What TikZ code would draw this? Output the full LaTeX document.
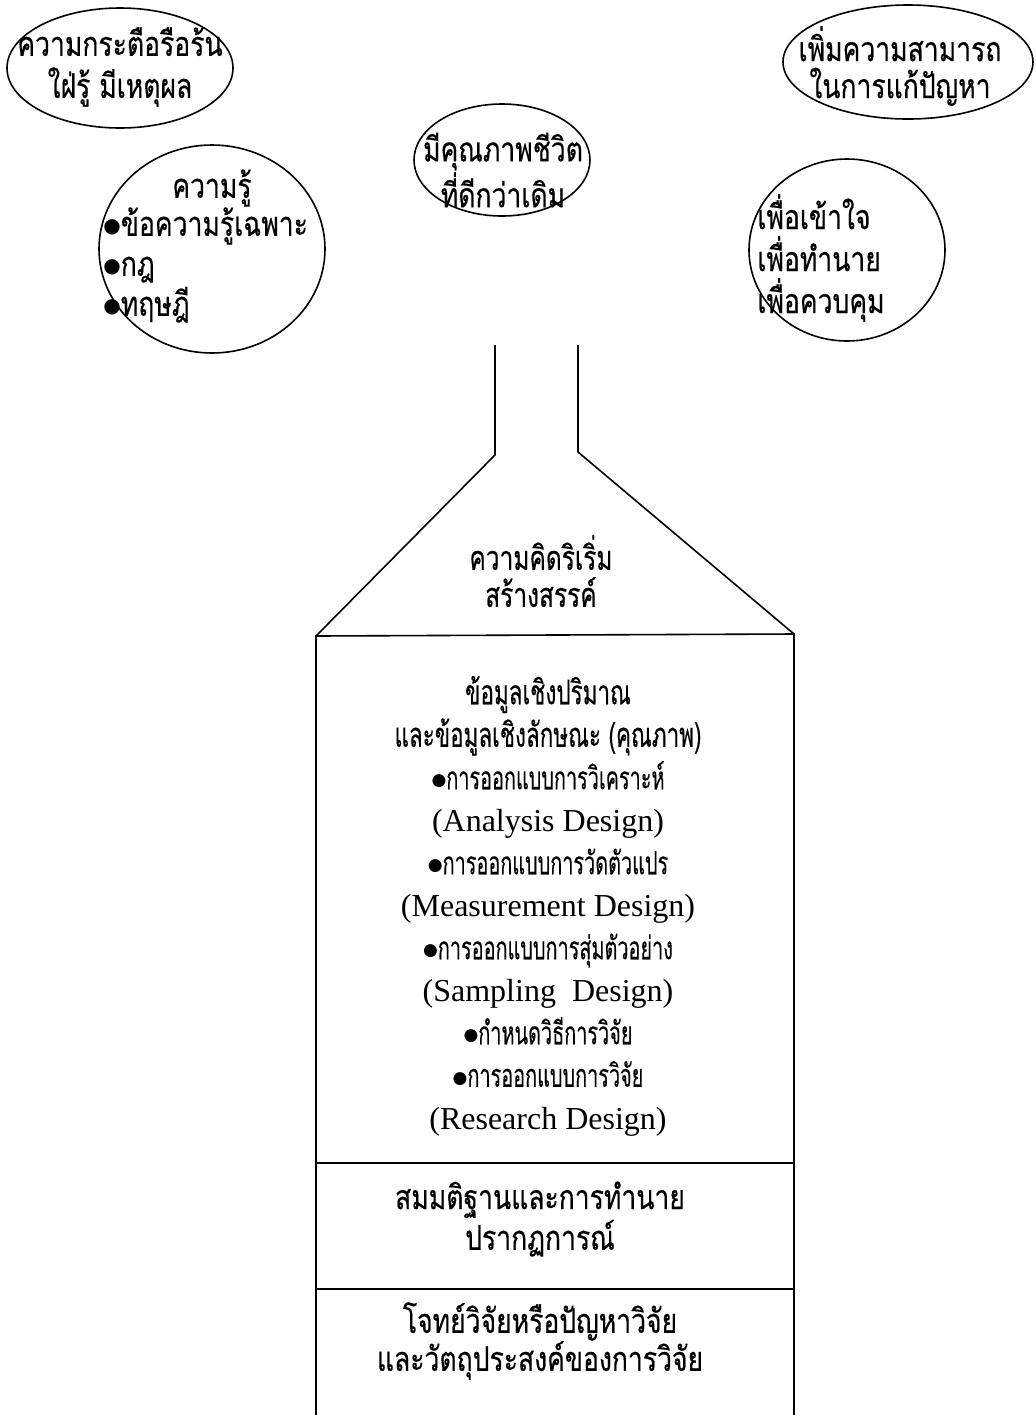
\documentclass[tikz,border=0pt]{standalone}
\usepackage{fontspec}
\usetikzlibrary{shapes.geometric}
\newfontfamily\thaifont[Script=Thai,FakeStretch=0.78,FakeBold=0.4]{Loma}
\newfontfamily\thaicond[Script=Thai,FakeStretch=0.66,FakeBold=0.3]{Loma}
\newfontfamily\thailight[Script=Thai,FakeStretch=0.62,FakeBold=0.15]{Loma}
\newfontfamily\engfont{Liberation Serif}
\newfontfamily\symfont{DejaVu Sans}
\newcommand\tbul{\raisebox{1.8pt}{\symfont\fontsize{8.5}{8}\selectfont ●}}
\newcommand\tbulbig{\raisebox{1.8pt}{\symfont\fontsize{10}{8}\selectfont ●}}
\newcommand\engl[1]{{\engfont\fontsize{16}{16}\selectfont #1}}
\newcommand\blt[1]{{\thailight\fontsize{16}{21.25}\selectfont\tbul #1}}
\begin{document}
\begin{tikzpicture}[x=0.5pt,y=-0.5pt,
  oval/.style={draw, ellipse, line width=0.8pt, inner sep=0pt},
  txt/.style={font=\thaifont\fontsize{17}{21}\selectfont, align=center, inner sep=0pt},
  ln/.style={line width=0.8pt}]
\useasboundingbox (0,0) rectangle (1035,1415);
\fill[white] (0,0) rectangle (1035,1415);

% ellipses
\node[oval, minimum width=113pt, minimum height=60pt] (eA) at (120,68) {};
\node[txt, font=\thaifont\fontsize{17}{21}\selectfont] (tA) at (120,67) {ความกระตือรือร้น\\ใฝ่รู้ มีเหตุผล};

\node[oval, minimum width=113pt, minimum height=104pt] (eB) at (212,249) {};
\node[txt] (tB) at (212,188) {ความรู้};
\node[txt, align=left, anchor=west, font=\thaifont\fontsize{17}{20}\selectfont] (tBl) at (103,265) {\tbulbig ข้อความรู้เฉพาะ\\\tbulbig กฎ\\\tbulbig ทฤษฎี};

\node[oval, minimum width=88pt, minimum height=56pt] (eC) at (502,160) {};
\node[txt, font=\thaifont\fontsize{17}{16}\selectfont] (tC) at (503,170) {มีคุณภาพชีวิต\\ที่ดีกว่าเดิม};

\node[oval, minimum width=125pt, minimum height=57pt] (eD) at (908,62) {};
\node[txt, font=\thaifont\fontsize{17}{18.5}\selectfont] (tD) at (900,66) {เพิ่มความสามารถ\\ในการแก้ปัญหา};

\node[oval, minimum width=98pt, minimum height=91pt] (eE) at (847,250) {};
\node[txt, align=left, anchor=west] (tE) at (757,258) {เพื่อเข้าใจ\\เพื่อทำนาย\\เพื่อควบคุม};

% funnel
\coordinate (nl) at (495,345);
\coordinate (nr) at (578,345);
\coordinate (sl) at (495,455);
\coordinate (sr) at (578,452);
\coordinate (bl) at (316,636);
\coordinate (br) at (794,634);
\draw[ln] (nl) -- (sl) -- (bl);
\draw[ln] (nr) -- (sr) -- (br);
\node[txt, font=\thaifont\fontsize{17}{18.5}\selectfont\addfontfeature{FakeStretch=0.72}] (tF) at (541,571) {ความคิดริเริ่ม\\สร้างสรรค์};

% box
\coordinate (lb) at (316,1415);
\coordinate (rb) at (794,1415);
\draw[ln] (lb) -- (bl) -- (br) -- (rb);
\coordinate (d1l) at (316,1163);
\coordinate (d1r) at (794,1163);
\coordinate (d2l) at (316,1289);
\coordinate (d2r) at (794,1289);
\draw[ln] (d1l) -- (d1r);
\draw[ln] (d2l) -- (d2r);

\node[txt, font=\thaicond\fontsize{17}{21.25}\selectfont] (tM) at (548,906) {%
ข้อมูลเชิงปริมาณ\\
และข้อมูลเชิงลักษณะ (คุณภาพ)\\
\blt{การออกแบบการวิเคราะห์}\\
\engl{(Analysis Design)}\\
\blt{การออกแบบการวัดตัวแปร}\\
\engl{(Measurement Design)}\\
\blt{การออกแบบการสุ่มตัวอย่าง}\\
\engl{(Sampling\ \ Design)}\\
\blt{กำหนดวิธีการวิจัย}\\
\blt{การออกแบบการวิจัย}\\
\engl{(Research Design)}};

\node[txt, font=\thaifont\fontsize{17}{18.5}\selectfont] (tH) at (540,1219) {สมมติฐานและการทำนาย\\ปรากฏการณ์};
\node[txt, font=\thaifont\fontsize{17}{19}\selectfont] (tR) at (540,1341) {โจทย์วิจัยหรือปัญหาวิจัย\\และวัตถุประสงค์ของการวิจัย};
\end{tikzpicture}
\end{document}
